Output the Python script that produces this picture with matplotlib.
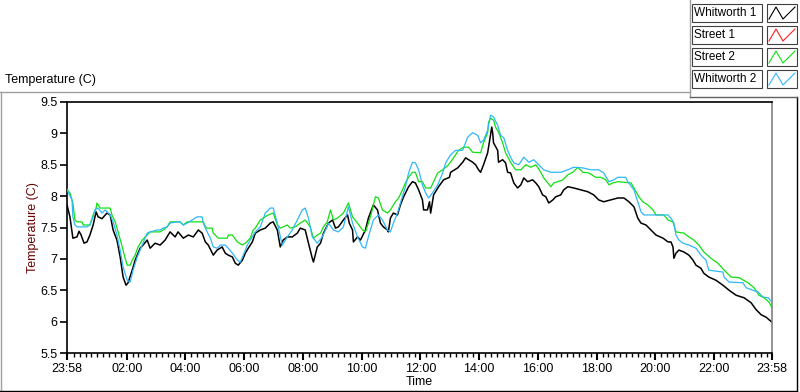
import numpy as np
import matplotlib.pyplot as plt
from matplotlib.lines import Line2D
from matplotlib.patches import Rectangle

plt.rcParams['font.family'] = ['Liberation Sans', 'DejaVu Sans']

# hours after 23:58 / temperature (C)
w1_t = [0.00, 0.10, 0.20, 0.34, 0.41, 0.48, 0.58, 0.68, 0.78, 0.89, 0.99, 1.06, 1.19, 1.36, 1.47, 1.57,
        1.70, 1.81, 1.91, 2.01, 2.08, 2.22, 2.32, 2.49, 2.59, 2.73, 2.83, 3.00, 3.17, 3.34, 3.51, 3.68,
        3.78, 3.96, 4.13, 4.30, 4.47, 4.60, 4.71, 4.81, 4.98, 5.11, 5.28, 5.39, 5.49, 5.63, 5.73, 5.83,
        5.97, 6.07, 6.17, 6.31, 6.41, 6.58, 6.75, 6.92, 7.02, 7.16, 7.26, 7.36, 7.50, 7.67, 7.84, 7.94,
        8.11, 8.22, 8.35, 8.39, 8.52, 8.63, 8.73, 8.90, 9.04, 9.14, 9.24, 9.41, 9.55, 9.61, 9.72, 9.75,
        9.89, 9.99, 10.16, 10.26, 10.43, 10.57, 10.67, 10.77, 10.91, 10.94, 11.01, 11.11, 11.25, 11.35,
        11.46, 11.63, 11.76, 11.86, 11.97, 12.10, 12.14, 12.27, 12.34, 12.38, 12.48, 12.65, 12.82, 13.02,
        13.06, 13.30, 13.47, 13.57, 13.67, 13.81, 13.91, 14.01, 14.08, 14.18, 14.32, 14.39, 14.46, 14.49,
        14.52, 14.66, 14.69, 14.83, 14.93, 15.00, 15.10, 15.21, 15.34, 15.45, 15.55, 15.68, 15.85, 15.96,
        16.06, 16.19, 16.30, 16.40, 16.54, 16.64, 16.81, 16.91, 17.05, 17.25, 17.49, 17.73, 17.93, 18.10,
        18.27, 18.51, 18.75, 18.96, 19.13, 19.30, 19.43, 19.54, 19.71, 19.88, 20.05, 20.29, 20.46, 20.56,
        20.63, 20.66, 20.73, 20.83, 21.00, 21.17, 21.31, 21.41, 21.58, 21.68, 21.85, 22.09, 22.33, 22.54,
        22.78, 23.05, 23.29, 23.46, 23.63, 23.80, 24.00]
w1_v = [7.86, 7.67, 7.33, 7.35, 7.44, 7.38, 7.25, 7.27, 7.38, 7.54, 7.75, 7.67, 7.64, 7.73, 7.70, 7.46,
        7.30, 7.03, 6.71, 6.58, 6.62, 6.82, 6.98, 7.17, 7.22, 7.30, 7.17, 7.25, 7.22, 7.30, 7.43, 7.35,
        7.43, 7.33, 7.38, 7.35, 7.46, 7.41, 7.27, 7.22, 7.06, 7.14, 7.19, 7.09, 7.06, 7.03, 6.93, 6.90,
        6.98, 7.09, 7.17, 7.27, 7.41, 7.46, 7.49, 7.57, 7.59, 7.46, 7.19, 7.30, 7.35, 7.35, 7.41, 7.49,
        7.46, 7.25, 7.01, 6.95, 7.19, 7.25, 7.41, 7.57, 7.62, 7.49, 7.51, 7.62, 7.70, 7.57, 7.46, 7.27,
        7.35, 7.30, 7.46, 7.65, 7.86, 7.78, 7.57, 7.51, 7.46, 7.43, 7.65, 7.73, 7.70, 7.86,
        7.99, 8.15, 8.23, 8.21, 8.10, 7.94, 7.78, 7.78, 7.91, 7.73, 8.02, 8.15, 8.26, 8.30,
        8.38, 8.45, 8.54, 8.61, 8.58, 8.54, 8.50, 8.42, 8.38, 8.50, 8.69, 8.89, 9.10, 9.01,
        8.85, 8.73, 8.54, 8.58, 8.53, 8.38, 8.37, 8.21, 8.13, 8.18, 8.29, 8.23, 8.26, 8.21,
        8.15, 8.02, 7.99, 7.89, 7.94, 7.99, 8.02, 8.10, 8.15, 8.13, 8.10, 8.07, 8.02, 7.94,
        7.91, 7.94, 7.97, 7.97, 7.91, 7.83, 7.65, 7.57, 7.54, 7.46, 7.38, 7.33, 7.27, 7.27,
        7.19, 7.01, 7.09, 7.14, 7.11, 7.06, 6.98, 6.90, 6.85, 6.77, 6.71, 6.66, 6.58, 6.50,
        6.42, 6.38, 6.30, 6.19, 6.11, 6.07, 5.99]

s1_t = []
s1_v = []

s2_t = [0.00, 0.10, 0.20, 0.27, 0.34, 0.51, 0.55, 0.78, 0.89, 0.99, 1.02, 1.13, 1.47, 1.53, 1.64, 1.74,
        1.88, 1.98, 2.05, 2.15, 2.22, 2.32, 2.42, 2.56, 2.73, 2.83, 3.17, 3.27, 3.41, 3.51, 3.85, 3.96,
        4.09, 4.64, 4.71, 4.77, 4.94, 4.98, 5.15, 5.46, 5.49, 5.63, 5.80, 5.97, 6.07, 6.24, 6.34, 6.41,
        6.58, 6.68, 6.85, 7.02, 7.16, 7.26, 7.36, 7.50, 7.60, 7.77, 7.94, 8.11, 8.28, 8.39, 8.52, 8.63,
        8.73, 8.86, 8.97, 9.07, 9.21, 9.41, 9.58, 9.72, 9.89, 10.06, 10.16, 10.33, 10.50, 10.60, 10.74,
        10.91, 11.01, 11.18, 11.29, 11.42, 11.52, 11.63, 11.76, 11.86, 11.97, 12.10, 12.21, 12.38, 12.48,
        12.62, 12.79, 12.99, 13.16, 13.33, 13.50, 13.67, 13.81, 14.08, 14.18, 14.32, 14.35, 14.42, 14.52,
        14.59, 14.69, 14.83, 14.93, 15.10, 15.27, 15.45, 15.62, 15.79, 15.96, 16.13, 16.23, 16.37, 16.47,
        16.57, 16.71, 16.88, 17.05, 17.22, 17.39, 17.56, 17.76, 18.00, 18.17, 18.34, 18.45, 18.58, 18.75,
        19.20, 19.30, 19.47, 19.60, 19.77, 19.95, 20.05, 20.32, 20.46, 20.63, 20.73, 21.00, 21.17, 21.34,
        21.51, 21.68, 21.92, 22.16, 22.37, 22.61, 22.88, 23.18, 23.39, 23.56, 23.73, 23.90, 24.00]
s2_v = [8.11, 8.05, 7.89, 7.62, 7.59, 7.59, 7.54, 7.54, 7.70, 7.81, 7.89, 7.81, 7.81, 7.70, 7.59, 7.43,
        7.19, 7.01, 6.90, 6.90, 6.98, 7.06, 7.19, 7.30, 7.38, 7.43, 7.43, 7.46, 7.51, 7.59, 7.59, 7.54,
        7.59, 7.59, 7.51, 7.49, 7.49, 7.41, 7.33, 7.33, 7.38, 7.38, 7.27, 7.22, 7.25, 7.33, 7.46, 7.49,
        7.62, 7.65, 7.70, 7.73, 7.54, 7.49, 7.51, 7.54, 7.49, 7.51, 7.57, 7.62, 7.51, 7.33, 7.38, 7.41,
        7.51, 7.59, 7.78, 7.62, 7.65, 7.73, 7.89, 7.67, 7.57, 7.46, 7.43, 7.67, 7.99, 7.97, 7.78,
        7.73, 7.78, 7.91, 7.97, 8.10, 8.21, 8.30, 8.38, 8.38, 8.23, 8.23, 8.13, 8.13, 8.23,
        8.37, 8.42, 8.50, 8.61, 8.73, 8.78, 8.78, 8.70, 8.69, 8.85, 9.01, 9.18, 9.24, 9.21,
        9.10, 9.02, 8.85, 8.69, 8.54, 8.42, 8.42, 8.50, 8.46, 8.50, 8.38, 8.29, 8.21, 8.15,
        8.21, 8.23, 8.26, 8.34, 8.38, 8.46, 8.38, 8.37, 8.30, 8.30, 8.26, 8.18, 8.21, 8.23,
        8.21, 8.13, 7.99, 7.91, 7.86, 7.78, 7.70, 7.70, 7.62, 7.59, 7.43, 7.41, 7.35, 7.30,
        7.22, 7.11, 7.01, 6.93, 6.82, 6.71, 6.70, 6.62, 6.54, 6.42, 6.38, 6.31, 6.22]

w2_t = [0.00, 0.17, 0.20, 0.27, 0.34, 0.68, 0.78, 0.89, 0.95, 1.06, 1.19, 1.30, 1.47, 1.57, 1.70, 1.81,
        1.91, 2.05, 2.15, 2.25, 2.39, 2.56, 2.73, 2.83, 3.07, 3.17, 3.27, 3.41, 3.51, 3.75, 3.85, 3.96,
        4.09, 4.26, 4.43, 4.60, 4.64, 4.77, 4.88, 4.98, 5.11, 5.22, 5.39, 5.49, 5.63, 5.80, 5.90, 6.00,
        6.14, 6.24, 6.41, 6.58, 6.75, 6.92, 7.02, 7.16, 7.33, 7.50, 7.67, 7.84, 8.01, 8.11, 8.22, 8.35,
        8.52, 8.69, 8.80, 8.90, 9.07, 9.24, 9.41, 9.58, 9.72, 9.89, 10.06, 10.16, 10.26, 10.43, 10.60,
        10.74, 10.91, 11.01, 11.11, 11.25, 11.35, 11.52, 11.63, 11.76, 11.86, 11.97, 12.10, 12.21, 12.31,
        12.44, 12.62, 12.79, 12.89, 13.06, 13.23, 13.47, 13.64, 13.81, 13.98, 14.08, 14.18, 14.32, 14.42,
        14.52, 14.66, 14.76, 14.87, 15.00, 15.10, 15.21, 15.38, 15.55, 15.72, 15.89, 16.06, 16.23, 16.47,
        16.81, 17.05, 17.25, 17.56, 17.83, 18.10, 18.27, 18.45, 18.62, 18.75, 19.02, 19.09, 19.30, 19.43,
        19.54, 19.64, 20.46, 20.56, 20.66, 20.73, 20.83, 20.97, 21.17, 21.41, 21.58, 21.75, 21.85, 22.33,
        22.37, 22.54, 23.01, 23.12, 23.53, 23.70, 23.87, 24.00]
w2_v = [8.10, 7.94, 7.67, 7.54, 7.51, 7.51, 7.54, 7.67, 7.78, 7.81, 7.73, 7.78, 7.70, 7.59, 7.38, 7.14,
        6.87, 6.66, 6.63, 6.82, 7.03, 7.22, 7.41, 7.43, 7.46, 7.46, 7.49, 7.51, 7.57, 7.59, 7.59, 7.54,
        7.57, 7.62, 7.67, 7.67, 7.57, 7.43, 7.33, 7.19, 7.17, 7.22, 7.22, 7.17, 7.09, 6.98, 6.95, 7.06,
        7.22, 7.30, 7.43, 7.51, 7.73, 7.81, 7.81, 7.57, 7.22, 7.35, 7.46, 7.62, 7.78, 7.81, 7.65, 7.35,
        7.25, 7.35, 7.46, 7.57, 7.46, 7.43, 7.51, 7.83, 7.57, 7.35, 7.19, 7.17, 7.35, 7.62, 7.70,
        7.62, 7.46, 7.43, 7.57, 7.73, 7.89, 8.15, 8.37, 8.54, 8.53, 8.42, 8.18, 8.05, 7.97,
        8.05, 8.18, 8.37, 8.53, 8.66, 8.73, 8.73, 8.94, 9.01, 8.97, 8.85, 8.89, 9.05, 9.29,
        9.26, 9.13, 8.97, 8.93, 8.73, 8.62, 8.53, 8.50, 8.62, 8.54, 8.58, 8.50, 8.42, 8.38,
        8.38, 8.42, 8.46, 8.45, 8.42, 8.42, 8.37, 8.23, 8.26, 8.30, 8.30, 8.23, 8.10, 7.91,
        7.75, 7.70, 7.70, 7.65, 7.57, 7.38, 7.30, 7.25, 7.22, 7.17, 7.06, 6.98, 6.82, 6.79,
        6.71, 6.63, 6.62, 6.54, 6.47, 6.39, 6.38, 6.31]

names = ['Whitworth 1', 'Street 1', 'Street 2', 'Whitworth 2']
colors = ['black', '#ff2020', '#10e010', '#30b8f8']
widths = [1.1, 0.9, 0.9, 0.9]
series = [(w1_t, w1_v), (s1_t, s1_v), (s2_t, s2_v), (w2_t, w2_v)]

tick_labels = ['23:58', '02:00', '04:00', '06:00', '08:00', '10:00', '12:00',
               '14:00', '16:00', '18:00', '20:00', '22:00', '23:58']

fig = plt.figure(figsize=(8, 3.92), dpi=100)
ax = fig.add_axes([67 / 800, 1 - 353 / 392, 705 / 800, 251 / 392])

for i, (t, v) in enumerate(series):
    ax.plot(t, v, color=colors[i], lw=widths[i], zorder=2 + i)

ax.set_xlim(0, 24)
ax.set_ylim(5.5, 9.5)
major = [0] + [2 + 2 / 60 + 2 * k for k in range(11)] + [24]
ax.set_xticks(major)
ax.set_xticklabels(tick_labels)
minor = np.arange(2 + 2 / 60 - 0.2 * 10, 24, 0.2)
ax.set_xticks([m for m in minor if m > 0.05], minor=True)
ax.tick_params(axis='x', which='major', length=5, width=1.5, labelsize=9, pad=2)
ax.tick_params(axis='x', which='minor', length=3, width=1)
yt = np.arange(5.5, 9.51, 0.5)
ax.set_yticks(yt)
ax.set_yticklabels(['%g' % y for y in yt])
ax.tick_params(axis='y', length=5, width=1.2, labelsize=9, pad=2)
for s in ['left', 'top', 'bottom']:
    ax.spines[s].set_color('black')
    ax.spines[s].set_linewidth(1.2)
ax.spines['right'].set_color('#808080')
ax.spines['right'].set_linewidth(1.2)
ax.set_xlabel('Time', fontsize=9, labelpad=1)
ax.set_ylabel('Temperature (C)', fontsize=9, color='#6a0000', labelpad=1)

fig.text(5 / 800, 1 - 80 / 392, 'Temperature (C)', fontsize=9, va='center', ha='left')

# panel frame
def fl(x0, y0, x1, y1, c, lw=1.0):
    fig.add_artist(Line2D([x0 / 800, x1 / 800], [1 - y0 / 392, 1 - y1 / 392], color=c, lw=lw))

fl(0, 92, 690, 92, '#a0a0a0')
fl(1, 92, 1, 391, '#a0a0a0')
fl(0, 390.5, 797, 390.5, 'black')
fl(796.5, 97, 796.5, 391, 'black')
fl(690, 0, 690, 97, '#a0a0a0')
fl(690, 97, 797, 97, '#606060')

# legend
for i, name in enumerate(names):
    cy = 13 + 22 * i
    fig.add_artist(Rectangle((692 / 800, 1 - (cy + 9) / 392), 70 / 800, 18 / 392,
                             facecolor='white', edgecolor='#404040', lw=0.8))
    fig.text(694 / 800, 1 - cy / 392, name, fontsize=8.5, va='center', ha='left')
    fig.add_artist(Rectangle((767 / 800, 1 - (cy + 9) / 392), 30 / 800, 18 / 392,
                             facecolor='white', edgecolor='#404040', lw=0.8))
    zx = [769, 776, 783, 795]
    zy = [cy + 6, cy - 6, cy + 6, cy - 6]
    fig.add_artist(Line2D([x / 800 for x in zx], [1 - y / 392 for y in zy], color=colors[i], lw=0.8))

fig.savefig('out.png', dpi=100)
